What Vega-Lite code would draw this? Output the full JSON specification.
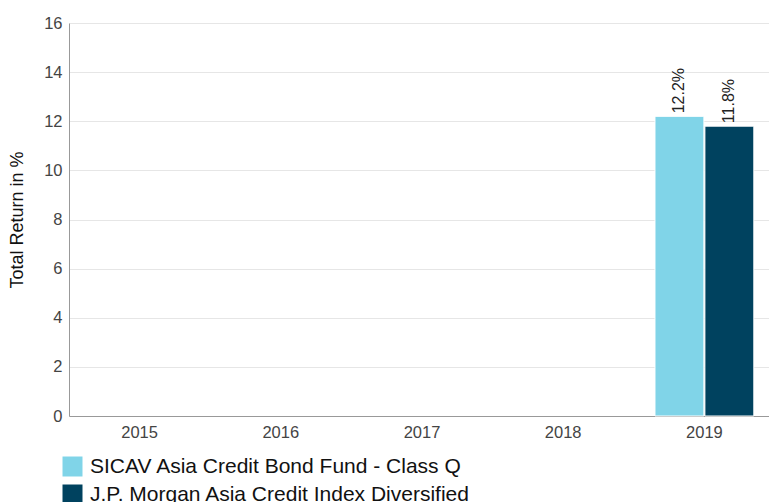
{
  "$schema": "https://vega.github.io/schema/vega-lite/v6.json",
  "width": 706,
  "height": 393,
  "autosize": {"type": "none"},
  "padding": {"left": 69, "top": 23, "right": 0, "bottom": 86},
  "background": "white",
  "config": {
    "font": "Liberation Sans",
    "view": {"stroke": null}
  },
  "data": {
    "values": [
      {"year": "2019", "series": "SICAV Asia Credit Bond Fund - Class Q", "value": 12.2, "label": "12.2%"},
      {"year": "2019", "series": "J.P. Morgan Asia Credit Index Diversified", "value": 11.8, "label": "11.8%"}
    ]
  },
  "encoding": {
    "x": {
      "field": "year", "type": "nominal",
      "scale": {"domain": ["2015", "2016", "2017", "2018", "2019"], "paddingInner": 0.3, "paddingOuter": 0.15},
      "axis": {"title": null, "labelAngle": 0, "labelFontSize": 16.5, "labelColor": "#444444", "ticks": false, "domainColor": "#999999", "labelPadding": 8, "grid": false}
    },
    "xOffset": {
      "field": "series", "type": "nominal",
      "scale": {"domain": ["SICAV Asia Credit Bond Fund - Class Q", "J.P. Morgan Asia Credit Index Diversified"], "paddingInner": 0.02}
    },
    "y": {
      "field": "value", "type": "quantitative",
      "scale": {"domain": [0, 16], "nice": false},
      "axis": {"title": "Total Return in %", "titleFontSize": 18, "titleFontWeight": "normal", "titleColor": "#111111", "titlePadding": 17, "values": [0, 2, 4, 6, 8, 10, 12, 14, 16], "labelFontSize": 16.5, "labelColor": "#444444", "ticks": false, "labelPadding": 7, "domainColor": "#999999", "gridColor": "#e6e6e6"}
    }
  },
  "layer": [
    {
      "mark": {"type": "bar", "stroke": "white", "strokeWidth": 1},
      "encoding": {
        "color": {
          "field": "series", "type": "nominal",
          "scale": {"domain": ["SICAV Asia Credit Bond Fund - Class Q", "J.P. Morgan Asia Credit Index Diversified"], "range": ["#80d4e8", "#00425f"]},
          "legend": {
            "title": null, "orient": "none", "legendX": -7, "legendY": 433,
            "symbolType": "square", "symbolSize": 400, "symbolStrokeWidth": 0,
            "labelFontSize": 21, "labelColor": "#111111", "rowPadding": 6, "labelOffset": 7,
            "labelLimit": 700
          }
        }
      }
    },
    {
      "mark": {"type": "text", "angle": 270, "align": "left", "baseline": "middle", "dx": 3, "fontSize": 16, "color": "#222222"},
      "encoding": {"text": {"field": "label"}}
    }
  ]
}
